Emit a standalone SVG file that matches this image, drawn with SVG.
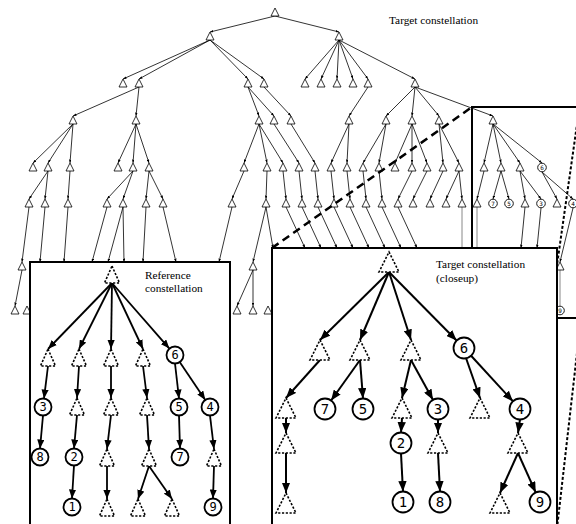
<svg xmlns="http://www.w3.org/2000/svg" xmlns:xlink="http://www.w3.org/1999/xlink" width="576" height="524" viewBox="0 0 576 524">
<style>
.st{fill:#fff;stroke:#000;stroke-width:0.8}
.sc{fill:#fff;stroke:#000;stroke-width:0.9}
.sd{font-family:"DejaVu Sans Mono","Liberation Mono",monospace;font-size:6px;text-anchor:middle}
.e{stroke:#000;stroke-width:0.8;fill:none;marker-end:url(#sa)}
.g{stroke:#888;stroke-width:1;fill:none}
.dt{fill:#fff;stroke:#000;stroke-width:1.6;stroke-dasharray:2.2,1.6}
.bc{fill:#fff;stroke:#000;stroke-width:1.8}
.ra{stroke:#000;stroke-width:1.8;fill:none;marker-end:url(#ra)}
.ca{stroke:#000;stroke-width:2;fill:none;marker-end:url(#ca)}
.rn{font-family:"DejaVu Sans Mono","Liberation Mono",monospace;font-size:12px;text-anchor:middle}
.cn{font-family:"DejaVu Sans Mono","Liberation Mono",monospace;font-size:14px;text-anchor:middle}
.lb{font-family:"Liberation Serif","Times New Roman",serif;font-size:11.3px;fill:#000}
.box{fill:#fff;stroke:#000;stroke-width:2}
</style>
<defs>
<marker id="sa" viewBox="0 0 4 3" refX="4" refY="1.5" markerWidth="3.5" markerHeight="2.6" markerUnits="userSpaceOnUse" orient="auto"><path d="M0,0 L4,1.5 L0,3 z"/></marker>
<marker id="ra" viewBox="0 0 10 8" refX="10" refY="4" markerWidth="9" markerHeight="7.5" markerUnits="userSpaceOnUse" orient="auto"><path d="M0,0 L10,4 L0,8 z"/></marker>
<marker id="ca" viewBox="0 0 10 8" refX="10" refY="4" markerWidth="10.5" markerHeight="8.5" markerUnits="userSpaceOnUse" orient="auto"><path d="M0,0 L10,4 L0,8 z"/></marker>
<path id="t" d="M0,0 L4,8 L-4,8 Z" class="st"/>
<path id="rt" d="M0,0 L7.5,17 L-7.5,17 Z" class="dt"/>
<path id="ct" d="M0,0 L10,20 L-10,20 Z" class="dt"/>
</defs>
<rect width="576" height="524" fill="#fff"/>

<g id="bg-connectors">
<line class="e" x1="275" y1="16" x2="210" y2="32"/>
<line class="e" x1="275" y1="16" x2="339" y2="32"/>
<line class="e" x1="210" y1="40" x2="123" y2="79"/>
<line class="e" x1="210" y1="40" x2="139" y2="79"/>
<line class="e" x1="210" y1="40" x2="248" y2="79"/>
<line class="e" x1="210" y1="40" x2="264" y2="79"/>
<line class="e" x1="339" y1="40" x2="305" y2="79"/>
<line class="e" x1="339" y1="40" x2="321" y2="79"/>
<line class="e" x1="339" y1="40" x2="337" y2="79"/>
<line class="e" x1="339" y1="40" x2="353" y2="79"/>
<line class="e" x1="339" y1="40" x2="368" y2="79"/>
<line class="e" x1="339" y1="40" x2="415" y2="79"/>
<line class="e" x1="139" y1="87" x2="73" y2="116"/>
<line class="e" x1="139" y1="87" x2="136" y2="116"/>
<line class="e" x1="248" y1="87" x2="259" y2="116"/>
<line class="e" x1="248" y1="87" x2="274" y2="116"/>
<line class="e" x1="264" y1="87" x2="291" y2="116"/>
<line class="e" x1="368" y1="87" x2="349" y2="116"/>
<line class="e" x1="415" y1="87" x2="386" y2="116"/>
<line class="e" x1="415" y1="87" x2="412" y2="116"/>
<line class="e" x1="415" y1="87" x2="439" y2="116"/>
<line class="e" x1="415" y1="87" x2="493" y2="116"/>
<line class="e" x1="73" y1="124" x2="33" y2="163"/>
<line class="e" x1="73" y1="124" x2="48" y2="163"/>
<line class="e" x1="73" y1="124" x2="70" y2="163"/>
<line class="e" x1="136" y1="124" x2="118" y2="163"/>
<line class="e" x1="136" y1="124" x2="133" y2="163"/>
<line class="e" x1="136" y1="124" x2="149" y2="163"/>
<line class="e" x1="259" y1="124" x2="244" y2="163"/>
<line class="e" x1="259" y1="124" x2="267" y2="163"/>
<line class="e" x1="259" y1="124" x2="283" y2="163"/>
<line class="e" x1="274" y1="124" x2="299" y2="163"/>
<line class="e" x1="291" y1="124" x2="315" y2="163"/>
<line class="e" x1="349" y1="124" x2="331" y2="163"/>
<line class="e" x1="349" y1="124" x2="347" y2="163"/>
<line class="e" x1="386" y1="124" x2="363" y2="163"/>
<line class="e" x1="386" y1="124" x2="379" y2="163"/>
<line class="e" x1="412" y1="124" x2="395" y2="163"/>
<line class="e" x1="412" y1="124" x2="412" y2="163"/>
<line class="e" x1="412" y1="124" x2="427" y2="163"/>
<line class="e" x1="439" y1="124" x2="443" y2="163"/>
<line class="e" x1="439" y1="124" x2="459" y2="163"/>
<line class="e" x1="493" y1="124" x2="484" y2="163"/>
<line class="e" x1="493" y1="124" x2="501" y2="163"/>
<line class="e" x1="493" y1="124" x2="520" y2="163"/>
<line class="e" x1="493" y1="124" x2="542" y2="163"/>
<line class="e" x1="48" y1="171" x2="29" y2="199"/>
<line class="e" x1="48" y1="171" x2="45" y2="199"/>
<line class="e" x1="70" y1="171" x2="68" y2="199"/>
<line class="e" x1="133" y1="171" x2="107" y2="199"/>
<line class="e" x1="133" y1="171" x2="123" y2="199"/>
<line class="e" x1="149" y1="171" x2="146" y2="199"/>
<line class="e" x1="149" y1="171" x2="163" y2="199"/>
<line class="e" x1="244" y1="171" x2="232" y2="199"/>
<line class="e" x1="267" y1="171" x2="266" y2="199"/>
<line class="e" x1="283" y1="171" x2="286" y2="199"/>
<line class="e" x1="299" y1="171" x2="302" y2="199"/>
<line class="e" x1="315" y1="171" x2="318" y2="199"/>
<line class="e" x1="331" y1="171" x2="334" y2="199"/>
<line class="e" x1="347" y1="171" x2="350" y2="199"/>
<line class="e" x1="363" y1="171" x2="366" y2="199"/>
<line class="e" x1="379" y1="171" x2="382" y2="199"/>
<line class="e" x1="412" y1="171" x2="398" y2="199"/>
<line class="e" x1="427" y1="171" x2="413" y2="199"/>
<line class="e" x1="443" y1="171" x2="430" y2="199"/>
<line class="e" x1="459" y1="171" x2="446" y2="199"/>
<line class="e" x1="459" y1="171" x2="462" y2="199"/>
<line class="e" x1="484" y1="171" x2="477" y2="199"/>
<line class="e" x1="501" y1="171" x2="493" y2="199"/>
<line class="e" x1="501" y1="171" x2="509" y2="199"/>
<line class="e" x1="520" y1="171" x2="525" y2="199"/>
<line class="e" x1="520" y1="171" x2="541" y2="199"/>
<line class="e" x1="542" y1="172" x2="557" y2="199"/>
<line class="e" x1="542" y1="172" x2="573" y2="199"/>
<line class="e" x1="29" y1="207" x2="22" y2="262"/>
<line class="e" x1="45" y1="207" x2="40" y2="262"/>
<line class="e" x1="68" y1="207" x2="64" y2="262"/>
<line class="e" x1="107" y1="207" x2="92" y2="262"/>
<line class="e" x1="123" y1="207" x2="108" y2="262"/>
<line class="e" x1="123" y1="207" x2="124" y2="262"/>
<line class="e" x1="146" y1="207" x2="143" y2="262"/>
<line class="e" x1="163" y1="207" x2="176" y2="262"/>
<line class="e" x1="232" y1="207" x2="219" y2="262"/>
<line class="e" x1="266" y1="207" x2="253" y2="262"/>
<line class="e" x1="266" y1="207" x2="273" y2="248"/>
<line class="e" x1="286" y1="207" x2="305" y2="248"/>
<line class="e" x1="302" y1="207" x2="321" y2="248"/>
<line class="e" x1="318" y1="207" x2="337" y2="248"/>
<line class="e" x1="334" y1="207" x2="353" y2="248"/>
<line class="e" x1="350" y1="207" x2="369" y2="248"/>
<line class="e" x1="366" y1="207" x2="385" y2="248"/>
<line class="e" x1="382" y1="207" x2="401" y2="248"/>
<line class="e" x1="398" y1="207" x2="417" y2="248"/>
<line class="e" x1="525" y1="207" x2="521" y2="248"/>
<line class="e" x1="541" y1="208" x2="537" y2="248"/>
<line class="e" x1="573" y1="208" x2="560" y2="262"/>
<line class="g" x1="462" y1="207" x2="462" y2="248"/>
<line class="g" x1="477" y1="207" x2="477" y2="248"/>
<line class="e" x1="22" y1="270" x2="15" y2="306"/>
<line class="e" x1="253" y1="270" x2="237" y2="306"/>
<line class="e" x1="253" y1="270" x2="253" y2="306"/>
<line class="g" x1="560" y1="270" x2="560" y2="306"/>
</g>

<g id="bg-nodes">
<g id="s0"><use href="#t" x="275" y="8"/></g>
<g id="s1a"><use href="#t" x="210" y="32"/></g>
<g id="s1b"><use href="#t" x="339" y="32"/></g>
<g id="s2a"><use href="#t" x="123" y="79"/></g>
<g id="s2b"><use href="#t" x="139" y="79"/></g>
<g id="s2c"><use href="#t" x="248" y="79"/></g>
<g id="s2d"><use href="#t" x="264" y="79"/></g>
<g id="s2e"><use href="#t" x="305" y="79"/></g>
<g id="s2f"><use href="#t" x="321" y="79"/></g>
<g id="s2g"><use href="#t" x="337" y="79"/></g>
<g id="s2h"><use href="#t" x="353" y="79"/></g>
<g id="s2i"><use href="#t" x="368" y="79"/></g>
<g id="s2j"><use href="#t" x="415" y="79"/></g>
<g id="s3a"><use href="#t" x="73" y="116"/></g>
<g id="s3b"><use href="#t" x="136" y="116"/></g>
<g id="s3c"><use href="#t" x="259" y="116"/></g>
<g id="s3d"><use href="#t" x="274" y="116"/></g>
<g id="s3e"><use href="#t" x="291" y="116"/></g>
<g id="s3f"><use href="#t" x="349" y="116"/></g>
<g id="s3g"><use href="#t" x="386" y="116"/></g>
<g id="s3h"><use href="#t" x="412" y="116"/></g>
<g id="s3i"><use href="#t" x="439" y="116"/></g>
<g id="s3j"><use href="#t" x="493" y="116"/></g>
<g id="s4a"><use href="#t" x="33" y="163"/></g>
<g id="s4b"><use href="#t" x="48" y="163"/></g>
<g id="s4c"><use href="#t" x="70" y="163"/></g>
<g id="s4d"><use href="#t" x="118" y="163"/></g>
<g id="s4e"><use href="#t" x="133" y="163"/></g>
<g id="s4f"><use href="#t" x="149" y="163"/></g>
<g id="s4g"><use href="#t" x="244" y="163"/></g>
<g id="s4h"><use href="#t" x="267" y="163"/></g>
<g id="s4i"><use href="#t" x="283" y="163"/></g>
<g id="s4j"><use href="#t" x="299" y="163"/></g>
<g id="s4k"><use href="#t" x="315" y="163"/></g>
<g id="s4l"><use href="#t" x="331" y="163"/></g>
<g id="s4m"><use href="#t" x="347" y="163"/></g>
<g id="s4n"><use href="#t" x="363" y="163"/></g>
<g id="s4o"><use href="#t" x="379" y="163"/></g>
<g id="s4p"><use href="#t" x="395" y="163"/></g>
<g id="s4q"><use href="#t" x="412" y="163"/></g>
<g id="s4r"><use href="#t" x="427" y="163"/></g>
<g id="s4s"><use href="#t" x="443" y="163"/></g>
<g id="s4t"><use href="#t" x="459" y="163"/></g>
<g id="s4u"><use href="#t" x="484" y="163"/></g>
<g id="s4v"><use href="#t" x="501" y="163"/></g>
<g id="s4w"><use href="#t" x="520" y="163"/></g>
<g id="s4x"><circle class="sc" cx="542" cy="167.5" r="4.3"/><text class="sd" x="542" y="169.6">6</text></g>
<g id="s5a"><use href="#t" x="29" y="199"/></g>
<g id="s5b"><use href="#t" x="45" y="199"/></g>
<g id="s5c"><use href="#t" x="68" y="199"/></g>
<g id="s5d"><use href="#t" x="107" y="199"/></g>
<g id="s5e"><use href="#t" x="123" y="199"/></g>
<g id="s5f"><use href="#t" x="146" y="199"/></g>
<g id="s5g"><use href="#t" x="163" y="199"/></g>
<g id="s5h"><use href="#t" x="232" y="199"/></g>
<g id="s5i"><use href="#t" x="266" y="199"/></g>
<g id="s5j"><use href="#t" x="286" y="199"/></g>
<g id="s5k"><use href="#t" x="302" y="199"/></g>
<g id="s5l"><use href="#t" x="318" y="199"/></g>
<g id="s5m"><use href="#t" x="334" y="199"/></g>
<g id="s5n"><use href="#t" x="350" y="199"/></g>
<g id="s5o"><use href="#t" x="366" y="199"/></g>
<g id="s5p"><use href="#t" x="382" y="199"/></g>
<g id="s5q"><use href="#t" x="398" y="199"/></g>
<g id="s5r"><use href="#t" x="413" y="199"/></g>
<g id="s5s"><use href="#t" x="430" y="199"/></g>
<g id="s5t"><use href="#t" x="446" y="199"/></g>
<g id="s5u"><use href="#t" x="462" y="199"/></g>
<g id="s5v"><use href="#t" x="477" y="199"/></g>
<g id="s5w"><circle class="sc" cx="493" cy="203.5" r="4.3"/><text class="sd" x="493" y="205.6">7</text></g>
<g id="s5x"><circle class="sc" cx="509" cy="203.5" r="4.3"/><text class="sd" x="509" y="205.6">5</text></g>
<g id="s5y"><use href="#t" x="525" y="199"/></g>
<g id="s5z"><circle class="sc" cx="541" cy="203.5" r="4.3"/><text class="sd" x="541" y="205.6">3</text></g>
<g id="s5aa"><use href="#t" x="557" y="199"/></g>
<g id="s5ab"><circle class="sc" cx="573" cy="203.5" r="4.3"/><text class="sd" x="573" y="205.6">4</text></g>
<g id="s6a"><use href="#t" x="22" y="262"/></g>
<g id="s6b"><use href="#t" x="253" y="262"/></g>
<g id="s6c"><use href="#t" x="560" y="262"/></g>
<g id="s7a"><use href="#t" x="15" y="306"/></g>
<g id="s7b"><use href="#t" x="27" y="306"/></g>
<g id="s7c"><use href="#t" x="237" y="306"/></g>
<g id="s7d"><use href="#t" x="253" y="306"/></g>
<g id="s7e"><use href="#t" x="268" y="306"/></g>
<g id="s7f"><circle class="sc" cx="560" cy="310.5" r="4.3"/><text class="sd" x="560" y="312.6">9</text></g>
</g>

<text class="lb" x="389" y="24">Target constellation</text>

<g id="zoom-frame">
<rect x="472" y="107" width="150" height="211" fill="none" stroke="#000" stroke-width="2"/>
<line x1="272" y1="248" x2="472" y2="107" stroke="#000" stroke-width="2.5" stroke-dasharray="8,5"/>
<line x1="579.5" y1="107" x2="557" y2="265" stroke="#000" stroke-width="2" stroke-dasharray="3,2"/>
<line x1="581" y1="318" x2="557.5" y2="524" stroke="#000" stroke-width="2" stroke-dasharray="3,2"/>
</g>

<g id="closeup-box">
<rect class="box" x="272" y="248" width="285" height="290"/>
<text class="lb" x="436" y="268">Target constellation</text>
<text class="lb" x="436" y="282">(closeup)</text>
</g>

<g id="closeup-connectors">
<line class="ca" x1="389" y1="272" x2="320" y2="340"/>
<line class="ca" x1="389" y1="272" x2="360" y2="340"/>
<line class="ca" x1="389" y1="272" x2="411" y2="340"/>
<line class="ca" x1="389" y1="272" x2="456.6" y2="340.5"/>
<line class="ca" x1="320" y1="360" x2="286" y2="398"/>
<line class="ca" x1="360" y1="360" x2="331.1" y2="400.5"/>
<line class="ca" x1="360" y1="360" x2="363" y2="398.5"/>
<line class="ca" x1="411" y1="360" x2="402" y2="398"/>
<line class="ca" x1="411" y1="360" x2="432.9" y2="399.8"/>
<line class="ca" x1="466" y1="358" x2="480" y2="398"/>
<line class="ca" x1="471.1" y1="355.7" x2="512.9" y2="401.3"/>
<line class="ca" x1="286" y1="418" x2="286" y2="433"/>
<line class="ca" x1="286" y1="453" x2="286" y2="493"/>
<line class="ca" x1="402" y1="418" x2="401" y2="432.5"/>
<line class="ca" x1="438" y1="419.5" x2="438" y2="433"/>
<line class="ca" x1="520" y1="419.5" x2="518" y2="433"/>
<line class="ca" x1="401" y1="453.5" x2="403" y2="491.5"/>
<line class="ca" x1="438" y1="453" x2="440" y2="491.5"/>
<line class="ca" x1="518" y1="453" x2="500" y2="493"/>
<line class="ca" x1="518" y1="453" x2="535.7" y2="492.4"/>
</g>

<g id="closeup-nodes">
<g id="c0"><use href="#ct" x="389" y="252"/></g>
<g id="c1a"><use href="#ct" x="320" y="340"/></g>
<g id="c1b"><use href="#ct" x="360" y="340"/></g>
<g id="c1c"><use href="#ct" x="411" y="340"/></g>
<g id="c6"><circle class="bc" cx="464" cy="348" r="10.5"/><text class="cn" x="464" y="353">6</text></g>
<g id="c2a"><use href="#ct" x="286" y="398"/></g>
<g id="c7"><circle class="bc" cx="325" cy="409" r="10.5"/><text class="cn" x="325" y="414">7</text></g>
<g id="c5"><circle class="bc" cx="363" cy="409" r="10.5"/><text class="cn" x="363" y="414">5</text></g>
<g id="c2b"><use href="#ct" x="402" y="398"/></g>
<g id="c3"><circle class="bc" cx="438" cy="409" r="10.5"/><text class="cn" x="438" y="414">3</text></g>
<g id="c2c"><use href="#ct" x="480" y="398"/></g>
<g id="c4"><circle class="bc" cx="520" cy="409" r="10.5"/><text class="cn" x="520" y="414">4</text></g>
<g id="c3a"><use href="#ct" x="286" y="433"/></g>
<g id="c2"><circle class="bc" cx="401" cy="443" r="10.5"/><text class="cn" x="401" y="448">2</text></g>
<g id="c3b"><use href="#ct" x="438" y="433"/></g>
<g id="c3c"><use href="#ct" x="518" y="433"/></g>
<g id="c4a"><use href="#ct" x="286" y="493"/></g>
<g id="c1"><circle class="bc" cx="403" cy="502" r="10.5"/><text class="cn" x="403" y="507">1</text></g>
<g id="c8"><circle class="bc" cx="440" cy="502" r="10.5"/><text class="cn" x="440" y="507">8</text></g>
<g id="c4b"><use href="#ct" x="500" y="493"/></g>
<g id="c9"><circle class="bc" cx="540" cy="502" r="10.5"/><text class="cn" x="540" y="507">9</text></g>
</g>

<g id="reference-box">
<rect class="box" x="30" y="262" width="200" height="280"/>
<text class="lb" x="145" y="279">Reference</text>
<text class="lb" x="145" y="292">constellation</text>
</g>

<g id="reference-connectors">
<line class="ra" x1="112" y1="283" x2="48" y2="349"/>
<line class="ra" x1="112" y1="283" x2="79" y2="349"/>
<line class="ra" x1="112" y1="283" x2="111" y2="349"/>
<line class="ra" x1="112" y1="283" x2="143" y2="349"/>
<line class="ra" x1="112" y1="283" x2="169.4" y2="348.6"/>
<line class="ra" x1="48" y1="366" x2="44" y2="398.5"/>
<line class="ra" x1="79" y1="366" x2="77" y2="398"/>
<line class="ra" x1="111" y1="366" x2="111" y2="398"/>
<line class="ra" x1="143" y1="366" x2="147" y2="398"/>
<line class="ra" x1="175" y1="363.5" x2="179" y2="398.5"/>
<line class="ra" x1="179.7" y1="362" x2="205.3" y2="400"/>
<line class="ra" x1="43" y1="415.5" x2="40" y2="448.5"/>
<line class="ra" x1="77" y1="415" x2="74" y2="448.5"/>
<line class="ra" x1="111" y1="415" x2="107" y2="449"/>
<line class="ra" x1="147" y1="415" x2="149" y2="449"/>
<line class="ra" x1="179" y1="415.5" x2="180" y2="448.5"/>
<line class="ra" x1="210" y1="415.5" x2="214" y2="449"/>
<line class="ra" x1="74" y1="465.5" x2="72" y2="498.5"/>
<line class="ra" x1="107" y1="466" x2="107" y2="499"/>
<line class="ra" x1="149" y1="466" x2="138" y2="499"/>
<line class="ra" x1="149" y1="466" x2="172" y2="499"/>
<line class="ra" x1="214" y1="466" x2="213" y2="498.5"/>
</g>

<g id="reference-nodes">
<g id="r0"><use href="#rt" x="112" y="266"/></g>
<g id="r1a"><use href="#rt" x="48" y="349"/></g>
<g id="r1b"><use href="#rt" x="79" y="349"/></g>
<g id="r1c"><use href="#rt" x="111" y="349"/></g>
<g id="r1d"><use href="#rt" x="143" y="349"/></g>
<g id="r6"><circle class="bc" cx="175" cy="355" r="8.5"/><text class="rn" x="175" y="359.3">6</text></g>
<g id="r3"><circle class="bc" cx="43" cy="407" r="8.5"/><text class="rn" x="43" y="411.3">3</text></g>
<g id="r2a"><use href="#rt" x="77" y="398"/></g>
<g id="r2b"><use href="#rt" x="111" y="398"/></g>
<g id="r2c"><use href="#rt" x="147" y="398"/></g>
<g id="r5"><circle class="bc" cx="179" cy="407" r="8.5"/><text class="rn" x="179" y="411.3">5</text></g>
<g id="r4"><circle class="bc" cx="210" cy="407" r="8.5"/><text class="rn" x="210" y="411.3">4</text></g>
<g id="r8"><circle class="bc" cx="40" cy="457" r="8.5"/><text class="rn" x="40" y="461.3">8</text></g>
<g id="r2"><circle class="bc" cx="74" cy="457" r="8.5"/><text class="rn" x="74" y="461.3">2</text></g>
<g id="r3b"><use href="#rt" x="107" y="449"/></g>
<g id="r3c"><use href="#rt" x="149" y="449"/></g>
<g id="r7"><circle class="bc" cx="180" cy="457" r="8.5"/><text class="rn" x="180" y="461.3">7</text></g>
<g id="r3d"><use href="#rt" x="214" y="449"/></g>
<g id="r1"><circle class="bc" cx="72" cy="507" r="8.5"/><text class="rn" x="72" y="511.3">1</text></g>
<g id="r4a"><use href="#rt" x="107" y="499"/></g>
<g id="r4b"><use href="#rt" x="138" y="499"/></g>
<g id="r4c"><use href="#rt" x="172" y="499"/></g>
<g id="r9"><circle class="bc" cx="213" cy="507" r="8.5"/><text class="rn" x="213" y="511.3">9</text></g>
</g>
</svg>
